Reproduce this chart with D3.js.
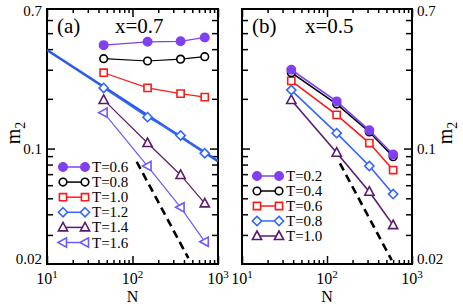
<!DOCTYPE html>
<html lang="en">
<head>
<meta charset="UTF-8">
<script src="https://cdnjs.cloudflare.com/ajax/libs/d3/7.8.5/d3.min.js"></script>
<style>
  body { margin: 0; background: #fff; }
  svg { display: block; font-family: "Liberation Serif", "DejaVu Serif", serif; }
</style>
</head>
<body>
<div id="chart"></div>
<script>
// ---- data ----
// panel (a), x = 0.7
const nA = [46, 150, 365, 700];
const tempsA = ['0.6', '0.8', '1.0', '1.2', '1.4', '1.6'];
const mA06 = [0.423, 0.443, 0.446, 0.471];
const mA08 = [0.350, 0.339, 0.348, 0.360];
const mA10 = [0.288, 0.233, 0.215, 0.205];
const mA12 = [0.233, 0.155, 0.120, 0.0936];
const mA14 = [0.197, 0.108, 0.0692, 0.0466];
const mA16 = [0.165, 0.0784, 0.0441, 0.0273];
const fitA = [[10, 0.395], [1000, 0.084]];       // thick blue guide
const dashA = [[112, 0.0832], [450, 0.0217]];    // dashed guide

// panel (b), x = 0.5
const nB = [38, 130, 315, 600];
const tempsB = ['0.2', '0.4', '0.6', '0.8', '1.0'];
const mB02 = [0.300, 0.193, 0.129, 0.092];
const mB04 = [0.288, 0.186, 0.126, 0.0892];
const mB06 = [0.257, 0.160, 0.108, 0.0741];
const mB08 = [0.226, 0.124, 0.0784, 0.053];
const mB10 = [0.197, 0.0944, 0.0548, 0.0344];
const dashB = [[142, 0.0814], [577, 0.0211]];

const xTicks = [10, 100, 1000];
const yLabels = [0.02, 0.1, 0.7];

// ---- styles ----
const styleA = [
  { shape: 'circle', color: '#8040f0', fill: true },
  { shape: 'circle', color: '#000000' },
  { shape: 'square', color: '#ff1a1a' },
  { shape: 'diamond', color: '#3366ff' },
  { shape: 'triUp', color: '#5c1a6b' },
  { shape: 'triLeft', color: '#6a5cff' }
];
const styleB = styleA.slice(0, 5);
const seriesA = [mA06, mA08, mA10, mA12, mA14, mA16];
const seriesB = [mB02, mB04, mB06, mB08, mB10];

const width = 463, height = 306;
const yTop = 9, yBottom = 264;

const svg = d3.select('#chart').append('svg')
  .attr('width', width).attr('height', height);

const y = d3.scaleLog().domain([0.02, 0.7]).range([yBottom, yTop]);

function markerPath(shape, cx, cy, filled) {
  if (shape === 'circle') {
    const r = filled ? 4.2 : 3.8;
    return `M${cx - r},${cy}a${r},${r} 0 1,0 ${2 * r},0a${r},${r} 0 1,0 ${-2 * r},0Z`;
  }
  if (shape === 'square') {
    const h = 3.6;
    return `M${cx - h},${cy - h}h${2 * h}v${2 * h}h${-2 * h}Z`;
  }
  if (shape === 'diamond') {
    const h = 4.6;
    return `M${cx},${cy - h}L${cx + h},${cy}L${cx},${cy + h}L${cx - h},${cy}Z`;
  }
  if (shape === 'triUp') {
    return `M${cx},${cy - 5}L${cx + 4.6},${cy + 3.5}L${cx - 4.6},${cy + 3.5}Z`;
  }
  return `M${cx - 5},${cy}L${cx + 3.5},${cy - 4.6}L${cx + 3.5},${cy + 4.6}Z`;
}

function drawPanel(opt) {
  const x = d3.scaleLog().domain([10, 1000]).range([opt.left, opt.right]);
  const g = svg.append('g');
  const clipId = 'clip' + opt.id;
  svg.append('clipPath').attr('id', clipId).append('rect')
    .attr('x', opt.left).attr('y', yTop)
    .attr('width', opt.right - opt.left).attr('height', yBottom - yTop);

  const minorX = x.ticks().filter(v => !xTicks.includes(v));
  const minorY = y.ticks().filter(v => v !== 0.1 && v > 0.02 && v < 0.7);

  // ticks, pointing inward on all four sides
  const axes = [
    { ax: d3.axisBottom(x).tickValues(xTicks).tickSize(-8), tr: `translate(0,${yBottom})` },
    { ax: d3.axisBottom(x).tickValues(minorX).tickSize(-4), tr: `translate(0,${yBottom})` },
    { ax: d3.axisTop(x).tickValues(xTicks).tickSize(-8), tr: `translate(0,${yTop})` },
    { ax: d3.axisTop(x).tickValues(minorX).tickSize(-4), tr: `translate(0,${yTop})` },
    { ax: d3.axisLeft(y).tickValues([0.1]).tickSize(-8), tr: `translate(${opt.left},0)` },
    { ax: d3.axisLeft(y).tickValues(minorY).tickSize(-6), tr: `translate(${opt.left},0)` },
    { ax: d3.axisRight(y).tickValues([0.1]).tickSize(-8), tr: `translate(${opt.right},0)` },
    { ax: d3.axisRight(y).tickValues(minorY).tickSize(-6), tr: `translate(${opt.right},0)` }
  ];
  axes.forEach(a => {
    const ag = g.append('g').attr('transform', a.tr).call(a.ax.tickFormat(''));
    ag.select('.domain').remove();
    ag.selectAll('line').attr('stroke', '#000').attr('stroke-width', 1.5);
  });

  // frame
  g.append('rect')
    .attr('x', opt.left).attr('y', yTop)
    .attr('width', opt.right - opt.left).attr('height', yBottom - yTop)
    .attr('fill', 'none').attr('stroke', '#000').attr('stroke-width', 2);

  // x tick labels 10^k
  const xl = g.selectAll('.xl').data(xTicks).enter().append('text')
    .attr('x', d => x(d)).attr('y', 284)
    .attr('text-anchor', 'middle').style('font-size', '16px');
  xl.append('tspan').text('10');
  xl.append('tspan').attr('dy', -6.5).style('font-size', '11px').text(d => Math.round(Math.log10(d)));

  // y tick labels
  g.selectAll('.yl').data(yLabels).enter().append('text')
    .attr('x', opt.labelSide === 'left' ? opt.left - 5 : opt.right + 5)
    .attr('y', d => y(d) + (d === 0.7 ? 2 : d === 0.02 ? -5 : 0))
    .attr('dy', '0.33em')
    .attr('text-anchor', opt.labelSide === 'left' ? 'end' : 'start')
    .style('font-size', '15px')
    .text(d => d);

  // axis titles
  g.append('text').attr('x', x(100)).attr('y', 302)
    .attr('text-anchor', 'middle').style('font-size', '16px').text('N');
  const mt = g.append('text')
    .attr('transform', `translate(${opt.mx},133) rotate(-90)`)
    .attr('text-anchor', 'middle').style('font-size', '20px');
  mt.append('tspan').text('m');
  mt.append('tspan').attr('dy', 5).style('font-size', '14px').text('2');

  // panel labels
  g.append('text').attr('x', opt.left + 10).attr('y', 33)
    .style('font-size', '21px').text(opt.tag);
  g.append('text').attr('x', opt.left + opt.xOff).attr('y', 33)
    .style('font-size', '21px').text(opt.title);

  const line = d3.line().x(d => x(d[0])).y(d => y(d[1]));

  // guide lines
  if (opt.fit) {
    g.append('path').datum(opt.fit).attr('d', line)
      .attr('clip-path', `url(#${clipId})`)
      .attr('fill', 'none').attr('stroke', '#2a5ae6').attr('stroke-width', 2.6);
  }
  g.append('path').datum(opt.dash).attr('d', line)
    .attr('clip-path', `url(#${clipId})`)
    .attr('fill', 'none').attr('stroke', '#000').attr('stroke-width', 2.6)
    .attr('stroke-dasharray', '8,5');

  // series (drawn last-first so the low-T ones sit on top)
  const data = opt.series.map((vals, i) => ({
    pts: vals.map((v, j) => [opt.n[j], v]),
    st: opt.styles[i]
  }));
  data.slice().reverse().forEach(s => {
    const sg = g.append('g');
    sg.append('path').datum(s.pts).attr('d', line)
      .attr('fill', 'none').attr('stroke', s.st.color).attr('stroke-width', opt.lw);
    sg.selectAll('path.mk').data(s.pts).enter().append('path')
      .attr('class', 'mk')
      .attr('d', d => markerPath(s.st.shape, x(d[0]), y(d[1]), s.st.fill))
      .attr('fill', s.st.fill ? s.st.color : '#fff')
      .attr('stroke', s.st.color).attr('stroke-width', 1.6);
  });

  // legend
  const lg = g.append('g');
  const rows = lg.selectAll('g').data(opt.temps).enter().append('g')
    .attr('transform', (d, i) => `translate(0,${opt.legY + i * opt.legDy})`);
  rows.append('line')
    .attr('x1', opt.legX).attr('x2', opt.legX + 22)
    .attr('stroke', (d, i) => opt.styles[i].color).attr('stroke-width', 1.5);
  [0, 22].forEach(dx => {
    rows.append('path')
      .attr('d', (d, i) => markerPath(opt.styles[i].shape, opt.legX + dx, 0, opt.styles[i].fill))
      .attr('fill', (d, i) => opt.styles[i].fill ? opt.styles[i].color : '#fff')
      .attr('stroke', (d, i) => opt.styles[i].color).attr('stroke-width', 1.6);
  });
  rows.append('text')
    .attr('x', opt.legX + 29).attr('y', 5)
    .style('font-size', '15px')
    .text(d => 'T=' + d);
}

drawPanel({
  id: 'a', left: 47, right: 218, labelSide: 'left', mx: 20,
  tag: '(a)', title: 'x=0.7', xOff: 68,
  n: nA, series: seriesA, styles: styleA, temps: tempsA, lw: 1.2,
  fit: fitA, dash: dashA, legX: 63, legY: 167, legDy: 15.1
});
drawPanel({
  id: 'b', left: 242, right: 412, labelSide: 'right', mx: 452,
  tag: '(b)', title: 'x=0.5', xOff: 63,
  n: nB, series: seriesB, styles: styleB, temps: tempsB, lw: 1.6,
  fit: null, dash: dashB, legX: 257, legY: 176, legDy: 15
});
</script>
</body>
</html>
